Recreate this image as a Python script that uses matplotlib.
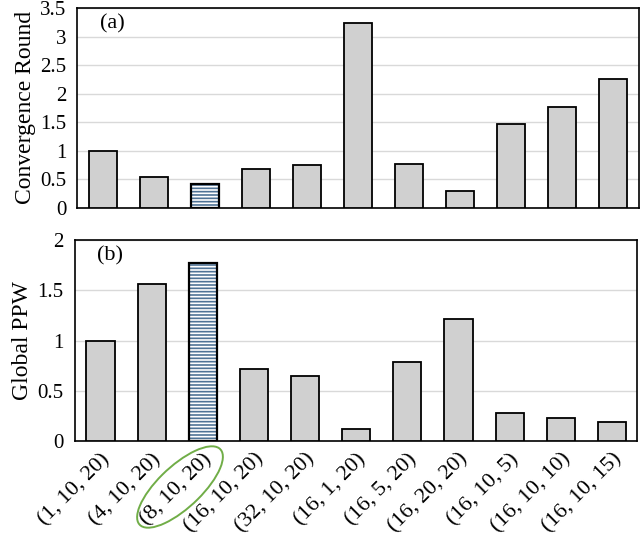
import matplotlib
matplotlib.use('Agg')
import matplotlib.pyplot as plt
from matplotlib.patches import Ellipse
from matplotlib import font_manager
import numpy as np

plt.rcParams['font.family'] = 'serif'
plt.rcParams['font.serif'] = ['Liberation Serif', 'Times New Roman', 'DejaVu Serif']
plt.rcParams['hatch.linewidth'] = 1.2

labels = ['(1, 10, 20)', '(4, 10, 20)', '(8, 10, 20)', '(16, 10, 20)', '(32, 10, 20)',
          '(16, 1, 20)', '(16, 5, 20)', '(16, 20, 20)', '(16, 10, 5)', '(16, 10, 10)',
          '(16, 10, 15)']
conv_round = [1.0, 0.54, 0.42, 0.68, 0.75, 3.23, 0.77, 0.30, 1.46, 1.77, 2.26]
global_ppw = [1.0, 1.56, 1.77, 0.72, 0.65, 0.12, 0.79, 1.21, 0.28, 0.23, 0.19]
highlight = 2

fig = plt.figure(figsize=(6.4, 5.33), dpi=100)
ax1 = fig.add_axes([0.121, 0.610, 0.877, 0.375])
ax2 = fig.add_axes([0.117, 0.172, 0.879, 0.378])

x = np.arange(len(labels))

def draw(ax, vals, ymax, yticks, yticklabels, ylabel, tag):
    bars = ax.bar(x, vals, width=0.55, color='#d0d0d0', edgecolor='black', linewidth=1.3, zorder=3)
    b = bars[highlight]
    b.set_facecolor('white')
    b.set_hatch('-----')
    b.set_edgecolor('#4f7396')
    # black outline over hatched bar
    ax.bar(x[highlight], vals[highlight], width=0.55, fill=False, edgecolor='black', linewidth=1.6, zorder=4)
    ax.set_xlim(-0.5, len(labels) - 0.5)
    ax.set_ylim(0, ymax)
    ax.set_yticks(yticks)
    ax.set_yticklabels(yticklabels, fontsize=15)
    ax.yaxis.grid(True, color='#d9d9d9', linewidth=1.0, zorder=0)
    ax.set_axisbelow(True)
    ax.tick_params(axis='y', length=0, pad=8)
    ax.tick_params(axis='x', length=0)
    for s in ax.spines.values():
        s.set_linewidth(1.2)
    ax.set_ylabel(ylabel, fontsize=17, labelpad=3)
    ax.text(0.04, 0.92, tag, transform=ax.transAxes, fontsize=16, va='center', ha='left')

draw(ax1, conv_round, 3.5, [0, 0.5, 1, 1.5, 2, 2.5, 3, 3.5],
     ['0', '0.5', '1', '1.5', '2', '2.5', '3', '3.5'], 'Convergence Round', '(a)')
ax1.set_xticks([])

draw(ax2, global_ppw, 2, [0, 0.5, 1, 1.5, 2], ['0', '0.5', '1', '1.5', '2'], 'Global PPW', '(b)')
ax2.set_xticks(x)
ax2.set_xticklabels(labels, rotation=45, ha='right', rotation_mode='anchor', fontsize=16)
ax2.tick_params(axis='x', pad=6)

# green ellipse around highlighted label
ell = Ellipse((180 / 640, 1 - 487 / 533), 0.19, 0.072, angle=50,
              transform=fig.transFigure, fill=False, edgecolor='#70ad47', linewidth=1.4)
fig.patches.append(ell)

fig.savefig('out.png', dpi=100)
